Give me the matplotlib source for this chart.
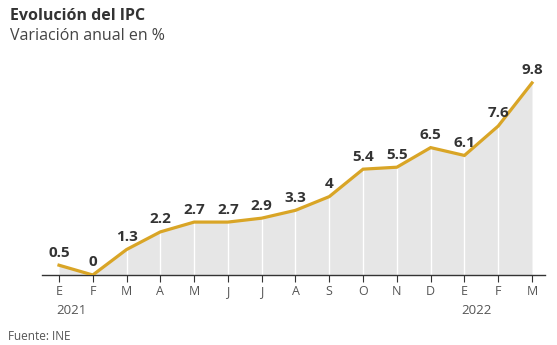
import matplotlib.pyplot as plt

plt.rcParams['font.family'] = ['Open Sans', 'DejaVu Sans']

months = ['E', 'F', 'M', 'A', 'M', 'J', 'J', 'A', 'S', 'O', 'N', 'D', 'E', 'F', 'M']
ipc = [0.5, 0, 1.3, 2.2, 2.7, 2.7, 2.9, 3.3, 4, 5.4, 5.5, 6.5, 6.1, 7.6, 9.8]
labels = ['0.5', '0', '1.3', '2.2', '2.7', '2.7', '2.9', '3.3', '4', '5.4', '5.5', '6.5', '6.1', '7.6', '9.8']
years = {0: '2021', 12: '2022'}

line_color = '#d9a526'
x = list(range(len(ipc)))

fig = plt.figure(figsize=(5.57, 3.45), dpi=100)
ax = fig.add_axes([42 / 557, 70 / 345, 503 / 557, 215 / 345])

ax.fill_between(x, ipc, 0, color='#e6e6e6', lw=0, zorder=1)
ax.vlines(x[1:-1], 0, ipc[1:-1], color='white', lw=1, zorder=2)
ax.plot(x, ipc, color=line_color, lw=2.3, solid_joinstyle='miter', zorder=3)

for xi, v, lab in zip(x, ipc, labels):
    ax.annotate(lab, (xi, v), xytext=(0, 4), textcoords='offset points',
                ha='center', va='bottom', fontsize=11, fontweight='bold', color='#333333')

ax.set_xlim(-0.503, 14.385)
ax.set_ylim(0, 10.97)
ax.set_xticks(x)
ax.set_xticklabels(months, fontsize=9, color='#555555')
ax.tick_params(axis='x', length=5, width=0.8, color='#333333', pad=2)
ax.set_yticks([])
for s in ['top', 'right', 'left']:
    ax.spines[s].set_visible(False)
ax.spines['bottom'].set_color('#333333')
ax.spines['bottom'].set_linewidth(1)

for i, yr in years.items():
    ax.annotate(yr, (i, 0), xytext=(-2, -21), textcoords='offset points',
                ha='left', va='top', fontsize=9.5, color='#555555',
                annotation_clip=False)

fig.text(10 / 557, 1 - 16 / 345, 'Evolución del IPC', fontsize=11.5, fontweight='bold',
         color='#333333', va='center')
fig.text(10 / 557, 1 - 36 / 345, 'Variación anual en %', fontsize=11.5,
         color='#444444', va='center')
fig.text(8 / 557, 1 - 336 / 345, 'Fuente: INE', fontsize=8.5, color='#555555', va='center')

fig.savefig('out.png', dpi=100)
